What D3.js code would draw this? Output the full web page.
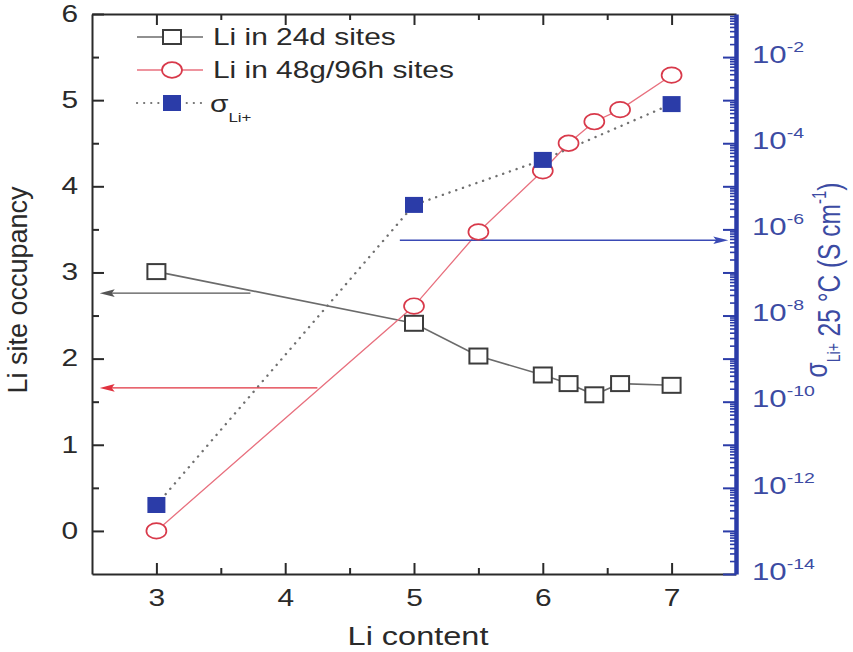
<!DOCTYPE html>
<html>
<head>
<meta charset="utf-8">
<script src="https://cdn.jsdelivr.net/npm/d3@7"></script>
<style>
  body { margin: 0; background: #fff; }
  svg { display: block; }
  text { font-family: "Liberation Sans", Arial, sans-serif; }
</style>
</head>
<body>
<svg id="chart" width="853" height="652"></svg>
<script>
// Li site occupancy and ionic conductivity versus Li content
const liContent = [3, 5, 5.5, 6, 6.2, 6.4, 6.6, 7];
const occ24d = [3.01, 2.41, 2.03, 1.81, 1.71, 1.58, 1.71, 1.69];
const occ48g96h = [0.0, 2.61, 3.47, 4.18, 4.50, 4.75, 4.89, 5.29];
const sigmaContent = [3, 5, 6, 7];
const sigmaLi = [4.0e-13, 3.7e-6, 4.1e-5, 8.1e-4];

const xTicks = [3, 4, 5, 6, 7];
const xMinorTicks = [3.5, 4.5, 5.5, 6.5];
const yTicks = [0, 1, 2, 3, 4, 5, 6];
const yMinorTicks = [0.5, 1.5, 2.5, 3.5, 4.5, 5.5];
const sigmaLabelExps = [-14, -12, -10, -8, -6, -4, -2];
const legendLabels = ["Li in 24d sites", "Li in 48g/96h sites"];

// guide arrows pointing each series to its own axis
const arrow24d = { from: 3.73, to: 2.56, level: 2.76 };
const arrow48g = { from: 4.25, to: 2.56, level: 1.66 };
const arrowSigma = { from: 4.89, to: 7.44, level: 5.6e-7 };

const SX = 1.3;             // horizontal stretch of the lettering
const INK = "#2a2a2a";
const BLUE = "#2b3ca8";
const BLUE_TEXT = "#3c4ba3";
const RED = "#d8394a";
const RED_LINE = "#e8707e";

const svg = d3.select("#chart");
svg.append("rect").attr("width", 853).attr("height", 652).attr("fill", "#fff");

const x = d3.scaleLinear().domain([2.5, 7.5]).range([92, 736]);
const y = d3.scaleLinear().domain([-0.5, 6]).range([574, 14]);
const yr = d3.scaleLog().domain([1e-14, 1e-1]).range([574, 14]);

// decade and sub-decade positions for the conductivity axis
const decades = d3.range(-14, -1).map(e => Math.pow(10, e));
const subDecades = [];
d3.range(-14, -1).forEach(e => d3.range(2, 10).forEach(m => subDecades.push(m * Math.pow(10, e))));

function stretchLabels(g) {
  g.selectAll(".tick text").each(function () {
    const t = d3.select(this);
    const tx = +(t.attr("x") || 0);
    t.attr("x", tx / SX).attr("transform", `scale(${SX},1)`);
  });
}
function styleAxis(g, color, width) {
  g.select(".domain").attr("stroke", color).attr("stroke-width", width);
  g.selectAll(".tick line").attr("stroke", color).attr("stroke-width", 2);
}

// bottom axis
const gb = svg.append("g").attr("transform", `translate(0,${y(-0.5)})`)
  .call(d3.axisBottom(x).tickValues(xTicks).tickSize(-11).tickSizeOuter(0).tickPadding(16).tickFormat(d3.format("d")));
svg.append("g").attr("transform", `translate(0,${y(-0.5)})`)
  .call(d3.axisBottom(x).tickValues(xMinorTicks).tickSize(-6).tickSizeOuter(0).tickFormat(""))
  .call(g => { g.select(".domain").remove(); g.selectAll(".tick line").attr("stroke", INK).attr("stroke-width", 2); });
gb.call(g => styleAxis(g, INK, 2));
gb.selectAll(".tick text").attr("font-size", 23).attr("fill", INK);
stretchLabels(gb);

// top axis (ticks only)
const gt = svg.append("g").attr("transform", `translate(0,${y(6)})`)
  .call(d3.axisTop(x).tickValues(xTicks).tickSize(-11).tickSizeOuter(0).tickFormat(""));
styleAxis(gt, INK, 2);
svg.append("g").attr("transform", `translate(0,${y(6)})`)
  .call(d3.axisTop(x).tickValues(xMinorTicks).tickSize(-6).tickSizeOuter(0).tickFormat(""))
  .call(g => { g.select(".domain").remove(); g.selectAll(".tick line").attr("stroke", INK).attr("stroke-width", 2); });

// left axis
const gl = svg.append("g").attr("transform", `translate(${x(2.5)},0)`)
  .call(d3.axisLeft(y).tickValues(yTicks).tickSize(-12).tickSizeOuter(0).tickPadding(14).tickFormat(d3.format("d")));
styleAxis(gl, INK, 2);
gl.selectAll(".tick text").attr("font-size", 23).attr("fill", INK);
stretchLabels(gl);
svg.append("g").attr("transform", `translate(${x(2.5)},0)`)
  .call(d3.axisLeft(y).tickValues(yMinorTicks).tickSize(-7).tickSizeOuter(0).tickFormat(""))
  .call(g => { g.select(".domain").remove(); g.selectAll(".tick line").attr("stroke", INK).attr("stroke-width", 2); });

// right conductivity axis (log)
svg.append("g").attr("transform", `translate(${x(7.5)},0)`)
  .call(d3.axisRight(yr).tickValues(subDecades).tickSize(-6).tickSizeOuter(0).tickFormat(""))
  .call(g => { g.select(".domain").remove(); g.selectAll(".tick line").attr("stroke", BLUE).attr("stroke-width", 1.6); });
const gr = svg.append("g").attr("transform", `translate(${x(7.5)},0)`)
  .call(d3.axisRight(yr).tickValues(decades).tickSize(-13).tickSizeOuter(0).tickPadding(16).tickFormat(""));
styleAxis(gr, BLUE, 4.5);
gr.selectAll(".tick text")
  .attr("font-size", 24).attr("fill", BLUE_TEXT).attr("dy", "0.22em")
  .each(function (d) {
    const e = Math.round(Math.log10(d));
    if (!sigmaLabelExps.includes(e)) return;
    const t = d3.select(this);
    t.append("tspan").text("10");
    t.append("tspan").attr("font-size", 15).attr("dy", -11).text(String(e));
  });
stretchLabels(gr);

// connecting lines
const line = d3.line().x(d => x(d[0])).y(d => y(d[1]));
const lineR = d3.line().x(d => x(d[0])).y(d => yr(d[1]));

svg.append("path").datum(d3.zip(liContent, occ24d))
  .attr("d", line).attr("fill", "none").attr("stroke", "#6b6b6b").attr("stroke-width", 1.6);
svg.append("path").datum(d3.zip(liContent, occ48g96h))
  .attr("d", line).attr("fill", "none").attr("stroke", RED_LINE).attr("stroke-width", 1.3);
svg.append("path").datum(d3.zip(sigmaContent, sigmaLi))
  .attr("d", lineR).attr("fill", "none").attr("stroke", "#707070").attr("stroke-width", 2.4)
  .attr("stroke-linecap", "round").attr("stroke-dasharray", "0.1 7");

// guide arrows
function arrow(a, yScale, color) {
  const x0 = x(a.from), x1 = x(a.to), yy = yScale(a.level);
  const dir = Math.sign(x1 - x0);
  svg.append("line").attr("x1", x0).attr("x2", x1 - dir * 10).attr("y1", yy).attr("y2", yy)
    .attr("stroke", color).attr("stroke-width", 1.4);
  svg.append("path")
    .attr("d", `M${x1},${yy} L${x1 - dir * 15},${yy - 3.8} L${x1 - dir * 12},${yy} L${x1 - dir * 15},${yy + 3.8} Z`)
    .attr("fill", color);
}
arrow(arrow24d, y, "#555");
arrow(arrow48g, y, "#e0323f");
arrow(arrowSigma, yr, "#3a4ab5");

// markers
const SQW = 18, SQH = 15;
svg.append("g").selectAll("rect").data(d3.zip(liContent, occ24d)).join("rect")
  .attr("x", d => x(d[0]) - SQW / 2).attr("y", d => y(d[1]) - SQH / 2)
  .attr("width", SQW).attr("height", SQH)
  .attr("fill", "#fff").attr("stroke", "#3c3c3c").attr("stroke-width", 2);
svg.append("g").selectAll("ellipse").data(d3.zip(liContent, occ48g96h)).join("ellipse")
  .attr("cx", d => x(d[0])).attr("cy", d => y(d[1]))
  .attr("rx", 10).attr("ry", 7.8)
  .attr("fill", "#fff").attr("stroke", RED).attr("stroke-width", 1.7);
svg.append("g").selectAll("rect").data(d3.zip(sigmaContent, sigmaLi)).join("rect")
  .attr("x", d => x(d[0]) - 9).attr("y", d => yr(d[1]) - 8)
  .attr("width", 18).attr("height", 16)
  .attr("fill", BLUE);

// legend
const lg = svg.append("g");
const rows = [37, 70, 103];
lg.append("line").attr("x1", 137).attr("x2", 203).attr("y1", rows[0]).attr("y2", rows[0]).attr("stroke", "#6b6b6b").attr("stroke-width", 1.6);
lg.append("rect").attr("x", 172 - SQW / 2).attr("y", rows[0] - 7).attr("width", SQW).attr("height", 14)
  .attr("fill", "#fff").attr("stroke", "#3c3c3c").attr("stroke-width", 2);
lg.append("line").attr("x1", 137).attr("x2", 203).attr("y1", rows[1]).attr("y2", rows[1]).attr("stroke", RED_LINE).attr("stroke-width", 1.3);
lg.append("ellipse").attr("cx", 172).attr("cy", rows[1]).attr("rx", 10).attr("ry", 7.8)
  .attr("fill", "#fff").attr("stroke", RED).attr("stroke-width", 1.7);
lg.append("line").attr("x1", 137).attr("x2", 203).attr("y1", rows[2]).attr("y2", rows[2])
  .attr("stroke", "#707070").attr("stroke-width", 2.2).attr("stroke-linecap", "round").attr("stroke-dasharray", "0.1 7");
lg.append("rect").attr("x", 163).attr("y", rows[2] - 8).attr("width", 18).attr("height", 16).attr("fill", BLUE);

legendLabels.forEach((lab, i) => {
  lg.append("text").attr("transform", `translate(213,${rows[i] + 8}) scale(${SX},1)`)
    .attr("font-size", 23).attr("fill", INK).text(lab);
});
const sg = lg.append("text").attr("transform", `translate(210,112) scale(${SX},1)`)
  .attr("font-size", 23).attr("fill", INK);
sg.append("tspan").text("σ");
sg.append("tspan").attr("font-size", 13).attr("dy", 10).text("Li+");

// axis titles
svg.append("text").attr("transform", `translate(418,645) scale(${SX},1)`)
  .attr("text-anchor", "middle").attr("font-size", 25).attr("fill", INK).text("Li content");
svg.append("text").attr("transform", "translate(27,290) rotate(-90)")
  .attr("text-anchor", "middle").attr("font-size", 27).attr("fill", INK).text("Li site occupancy");

const rt = svg.append("text").attr("transform", `translate(840,280) scale(${SX},1) rotate(-90)`)
  .attr("text-anchor", "middle").attr("font-size", 24.5).attr("fill", BLUE_TEXT);
rt.append("tspan").attr("dy", -10).text("σ");
rt.append("tspan").attr("font-size", 14).attr("dy", 10).text("Li+");
rt.append("tspan").text(" 25 °C (S cm");
rt.append("tspan").attr("font-size", 15).attr("dy", -11).text("-1");
rt.append("tspan").attr("dy", 11).text(")");
</script>
</body>
</html>
